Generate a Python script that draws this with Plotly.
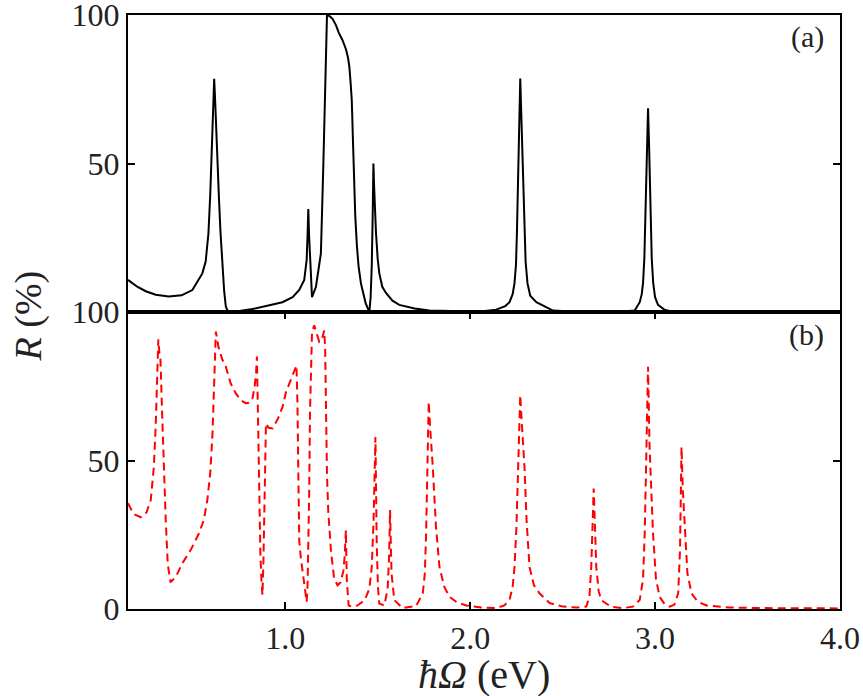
import plotly.graph_objects as go
from plotly.subplots import make_subplots

# panel (a): photon energy (eV) vs reflectance (%)
energy_a = [0.15, 0.20, 0.246, 0.30, 0.37, 0.44, 0.498, 0.552, 0.57, 0.585, 0.595, 0.603, 0.609, 0.616,
            0.622, 0.628, 0.634, 0.642, 0.65, 0.661, 0.67, 0.679, 0.69, 0.70, 0.716, 0.823, 0.90, 0.985,
            1.04, 1.076, 1.103, 1.116, 1.121, 1.125, 1.129, 1.134, 1.145, 1.166, 1.193, 1.206, 1.214, 1.22,
            1.226, 1.24, 1.256, 1.275, 1.29, 1.31, 1.329, 1.34, 1.347, 1.354, 1.36, 1.368, 1.374, 1.379,
            1.388, 1.397, 1.41, 1.42, 1.435, 1.446, 1.455, 1.462, 1.468, 1.473, 1.477, 1.481, 1.486, 1.491,
            1.50, 1.509, 1.525, 1.545, 1.58, 1.617, 1.70, 1.78, 1.90, 2.0, 2.08, 2.141, 2.19, 2.213,
            2.23, 2.24, 2.248, 2.253, 2.258, 2.262, 2.267, 2.271, 2.276, 2.282, 2.288, 2.294, 2.30, 2.31,
            2.325, 2.358, 2.448, 2.55, 2.70, 2.82, 2.89, 2.917, 2.928, 2.935, 2.942, 2.95, 2.956, 2.962,
            2.968, 2.975, 2.982, 2.99, 3.0, 3.016, 3.05, 3.1, 3.3, 3.6, 4.0]
refl_a = [10.8, 8.5, 7.0, 5.8, 5.2, 5.6, 7.4, 13, 17, 26.5, 40, 58, 70, 78.5,
          70, 58, 48.9, 38, 27, 15.3, 7, 1.8, 0.3, 0, 0, 1, 2, 3.3,
          5, 7.4, 10.8, 17.5, 26, 34.7, 26, 17.5, 5, 8.4, 19.7, 48.9, 70, 88,
          100, 99.6, 98.7, 96.5, 94, 91.5, 88.4, 85.5, 82.5, 77, 71.3, 54.5, 42, 32.1,
          22, 15.3, 9.5, 6.4, 3, 1.3, 0, 5, 15.3, 32, 50, 42, 33, 26.6,
          18, 13, 8.5, 6.4, 3.8, 2.4, 1.2, 0.5, 0.3, 0.2, 0.3, 0.8, 2, 3.3,
          6, 9.7, 16, 26.6, 40, 54.5, 68, 78.6, 68, 54.5, 40, 26.6, 17, 9.7,
          5.5, 3.3, 0.5, 0.2, 0.1, 0.2, 0.5, 3.3, 6, 9.7, 18, 37.6, 55, 68.6,
          55, 37.6, 18, 9.7, 5, 2.4, 0.8, 0, 0, 0, 0]

# panel (b)
energy_b = [0.15, 0.18, 0.219, 0.25, 0.273, 0.29, 0.30, 0.308, 0.314, 0.32, 0.325, 0.335, 0.345, 0.354,
            0.365, 0.38, 0.41, 0.444, 0.49, 0.534, 0.56, 0.579, 0.595, 0.607, 0.617, 0.625, 0.64, 0.66,
            0.679, 0.705, 0.733, 0.76, 0.787, 0.81, 0.823, 0.835, 0.843, 0.847, 0.852, 0.859, 0.866, 0.872,
            0.877, 0.882, 0.887, 0.892, 0.896, 0.91, 0.931, 0.96, 0.986, 1.004, 1.02, 1.04, 1.049, 1.061,
            1.066, 1.07, 1.076, 1.085, 1.094, 1.103, 1.11, 1.116, 1.121, 1.126, 1.13, 1.134, 1.14, 1.145,
            1.157, 1.17, 1.184, 1.199, 1.211, 1.216, 1.22, 1.226, 1.233, 1.248, 1.265, 1.283, 1.3, 1.315,
            1.322, 1.328, 1.333, 1.338, 1.343, 1.36, 1.391, 1.43, 1.455, 1.468, 1.478, 1.488, 1.495, 1.502,
            1.509, 1.536, 1.554, 1.562, 1.567, 1.575, 1.59, 1.635, 1.708, 1.744, 1.755, 1.762, 1.77, 1.776,
            1.785, 1.798, 1.815, 1.834, 1.86, 1.888, 1.93, 1.979, 2.06, 2.14, 2.185, 2.213, 2.23, 2.24,
            2.25, 2.258, 2.265, 2.271, 2.278, 2.286, 2.294, 2.305, 2.321, 2.345, 2.375, 2.43, 2.502, 2.58,
            2.628, 2.645, 2.655, 2.662, 2.668, 2.675, 2.682, 2.695, 2.709, 2.76, 2.827, 2.88, 2.917, 2.935,
            2.944, 2.952, 2.962, 2.97, 2.979, 2.989, 3.005, 3.025, 3.05, 3.08, 3.105, 3.125, 3.135, 3.143,
            3.15, 3.161, 3.175, 3.197, 3.23, 3.278, 3.4, 3.6, 3.8, 4.0]
refl_b = [35.6, 32, 30.9, 32.5, 36.7, 48, 62, 78, 90.8, 86, 85, 65, 45, 30,
          15, 9, 11, 15.4, 20, 25.5, 30, 36.7, 46, 59.2, 78, 93.4, 88, 84,
          81.6, 76, 72.6, 70.3, 69.3, 69.5, 70.9, 75, 80, 85, 68, 36.7, 18, 9,
          4.7, 15, 36.7, 55, 62.5, 61, 60.8, 64, 68.1, 73, 75.5, 78.5, 79.8, 82,
          70, 45, 23, 17, 12.5, 8, 4.5, 2.4, 8, 21.5, 40, 66, 85, 93.3,
          95.5, 92.5, 90, 91, 93.8, 88, 66.3, 45, 32.7, 19.2, 10.2, 8, 9, 13,
          18, 26.5, 10, 4, 1.2, 0.8, 1.2, 3, 6.8, 14, 30, 57.9, 21.4, 7,
          1.8, 1.2, 6.8, 18, 33.3, 12, 3, 0.3, 1, 5.3, 12, 25.5, 50, 69.8,
          60, 47.9, 28, 14.2, 7.5, 4.1, 2.2, 1.2, 0.5, 0.3, 1.2, 3, 7.5, 14.2,
          27, 47.9, 62, 72, 64, 55, 47.9, 30, 14.2, 8, 5.3, 2, 0.8, 0.5,
          0.8, 4, 14.2, 28, 40.6, 28, 14.2, 6, 3, 0.8, 0.3, 0.8, 3, 10,
          25.5, 50, 81.6, 55, 38, 25.5, 10, 4.1, 1.8, 0.8, 1.5, 5.3, 20, 54.6,
          40, 25.5, 12, 5.3, 2.5, 1.2, 0.5, 0.3, 0.2, 0.2]

assert len(energy_a) == len(refl_a), (len(energy_a), len(refl_a))
assert len(energy_b) == len(refl_b), (len(energy_b), len(refl_b))

xticks = [1.0, 2.0, 3.0, 4.0]
xtick_text = ["1.0", "2.0", "3.0", "4.0"]

font = "Liberation Serif"
txt = "#222"

fig = make_subplots(rows=2, cols=1, shared_xaxes=True, vertical_spacing=0)

fig.add_trace(go.Scatter(x=energy_a, y=refl_a, mode="lines",
                         line=dict(color="black", width=2)), row=1, col=1)
fig.add_trace(go.Scatter(x=energy_b, y=refl_b, mode="lines",
                         line=dict(color="#ff0000", width=2, dash="8px,5px")), row=2, col=1)

axis_common = dict(showline=True, linecolor="black", linewidth=2, mirror="ticks",
                   ticks="inside", ticklen=7, tickwidth=1.5, tickcolor="black",
                   showgrid=False, zeroline=False, automargin=False,
                   ticklabeloverflow="allow",
                   tickfont=dict(family=font, size=32, color=txt))

fig.update_xaxes(range=[0.15, 4.0], tickvals=xticks, ticktext=xtick_text, **axis_common)
fig.update_xaxes(ticks="", showticklabels=False, mirror=True, row=1, col=1)
fig.update_yaxes(range=[0, 100], **axis_common)
fig.update_yaxes(tickvals=[50, 100], row=1, col=1)
fig.update_yaxes(tickvals=[0, 50, 100], row=2, col=1)

fig.add_annotation(text="(a)", x=0.98, y=0.963, xref="paper", yref="paper",
                   xanchor="right", yanchor="middle", showarrow=False,
                   font=dict(family=font, size=30, color=txt))
fig.add_annotation(text="(b)", x=0.98, y=0.461, xref="paper", yref="paper",
                   xanchor="right", yanchor="middle", showarrow=False,
                   font=dict(family=font, size=30, color=txt))
fig.add_annotation(text="<i>R</i> (%)", x=-0.14, y=0.493, xref="paper", yref="paper",
                   xanchor="center", yanchor="middle", textangle=-90, showarrow=False,
                   font=dict(family=font, size=38, color=txt))
fig.add_annotation(text="<i>ħΩ</i> (eV)", x=0.5, y=-0.111, xref="paper", yref="paper",
                   xanchor="center", yanchor="middle", showarrow=False,
                   font=dict(family=font, size=40, color=txt))

fig.update_layout(width=863, height=696, showlegend=False,
                  plot_bgcolor="white", paper_bgcolor="white",
                  margin=dict(l=128, r=23, t=15, b=87))

# drop the default page margin so the figure sits at the window corner
fig.write_html("out.html", config={"displayModeBar": False},
               post_script="document.body.style.margin='0px';")
